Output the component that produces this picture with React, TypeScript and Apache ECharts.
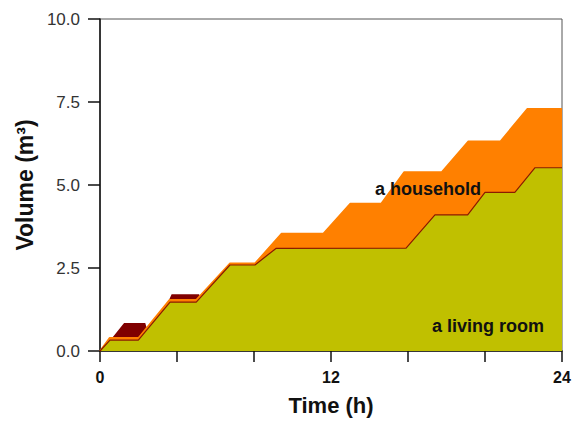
import React, { useEffect, useRef } from "react";
import * as echarts from "echarts";

// Time (h) / Volume (m3) pairs
const livingRoom: [number, number][] = [
  [0, 0], [0.52, 0.33], [1.99, 0.33], [3.64, 1.47], [5.0, 1.47], [6.75, 2.59],
  [8.05, 2.59], [9.14, 3.09], [15.9, 3.1], [17.4, 4.1], [19.1, 4.1], [20.0, 4.78],
  [21.55, 4.78], [22.6, 5.52], [24, 5.52],
];
const household: [number, number][] = [
  [0, 0], [0.5, 0.4], [2.0, 0.4], [3.6, 1.54], [5.0, 1.54], [6.75, 2.64],
  [8.05, 2.64], [9.43, 3.54], [11.6, 3.54], [13.0, 4.44], [14.6, 4.44],
  [15.8, 5.39], [17.75, 5.39], [19.13, 6.32], [20.8, 6.32], [22.2, 7.3], [24, 7.3],
];
const depthTop: [number, number][] = [
  [0, 0], [0.5, 0.3], [1.25, 0.84], [2.35, 0.84], [2.5, 0.55], [3.4, 1.3],
  [3.72, 1.71], [5.15, 1.71], [5.3, 1.45], [6.75, 2.5], [24, 2.5],
];
const xTickLabels = ["0", "12", "24"];
const yTicks = [0, 2.5, 5, 7.5, 10];

export default function App() {
  const ref = useRef<HTMLDivElement>(null);
  useEffect(() => {
    if (!ref.current) return;
    const chart = echarts.init(ref.current, null, { renderer: "svg" });
    chart.setOption({
      animation: false,
      backgroundColor: "#ffffff",
      textStyle: { fontFamily: "Liberation Sans, Arial, sans-serif" },
      grid: {
        left: 100, right: 20, top: 19, bottom: 69,
        show: true, borderColor: "#555", borderWidth: 1, backgroundColor: "transparent",
      },
      xAxis: {
        type: "value", min: 0, max: 24, interval: 4,
        axisLine: { show: true, onZero: false, lineStyle: { color: "#111", width: 1.5 } },
        axisTick: { show: true, inside: false, length: 11, lineStyle: { color: "#111", width: 1.5 } },
        splitLine: { show: false },
        axisLabel: {
          margin: 18, color: "#111", fontSize: 16, fontWeight: "bold",
          formatter: (v: number) => (xTickLabels.includes(String(v)) ? String(v) : ""),
        },
        name: "Time (h)", nameLocation: "middle", nameGap: 43,
        nameTextStyle: { fontSize: 22, fontWeight: "bold", color: "#111" },
      },
      yAxis: {
        type: "value", min: yTicks[0], max: yTicks[yTicks.length - 1], interval: 2.5,
        axisLine: { show: true, lineStyle: { color: "#111", width: 1.5 } },
        axisTick: { show: true, inside: false, length: 12, lineStyle: { color: "#111", width: 1.5 } },
        splitLine: { show: false },
        axisLabel: {
          margin: 20, color: "#333", fontSize: 17,
          formatter: (v: number) => v.toFixed(1),
        },
        name: "Volume (m³)", nameLocation: "middle", nameGap: 62,
        nameTextStyle: { fontSize: 23, fontWeight: "bold", color: "#111" },
      },
      series: [
        {
          type: "line", data: depthTop, symbol: "none",
          lineStyle: { width: 0 },
          areaStyle: { color: "#800000", opacity: 1 },
        },
        {
          type: "line", data: household, symbol: "none",
          lineStyle: { width: 1.5, color: "#FF8000" },
          areaStyle: { color: "#FF8000", opacity: 1 },
        },
        {
          type: "line", data: livingRoom, symbol: "none",
          lineStyle: { width: 1.2, color: "#8B1A00" },
          areaStyle: { color: "#C0C000", opacity: 1 },
        },
      ],
      graphic: [
        {
          type: "text", left: 375, top: 180, z: 100,
          style: { text: "a household", font: "bold 18px 'Liberation Sans', Arial, sans-serif", fill: "#111" },
        },
        {
          type: "text", left: 432, top: 317, z: 100,
          style: { text: "a living room", font: "bold 18px 'Liberation Sans', Arial, sans-serif", fill: "#111" },
        },
      ],
    });
    return () => chart.dispose();
  }, []);
  return (
    <div
      ref={ref}
      style={{ position: "fixed", left: 0, top: 0, width: 582, height: 421 }}
    />
  );
}
